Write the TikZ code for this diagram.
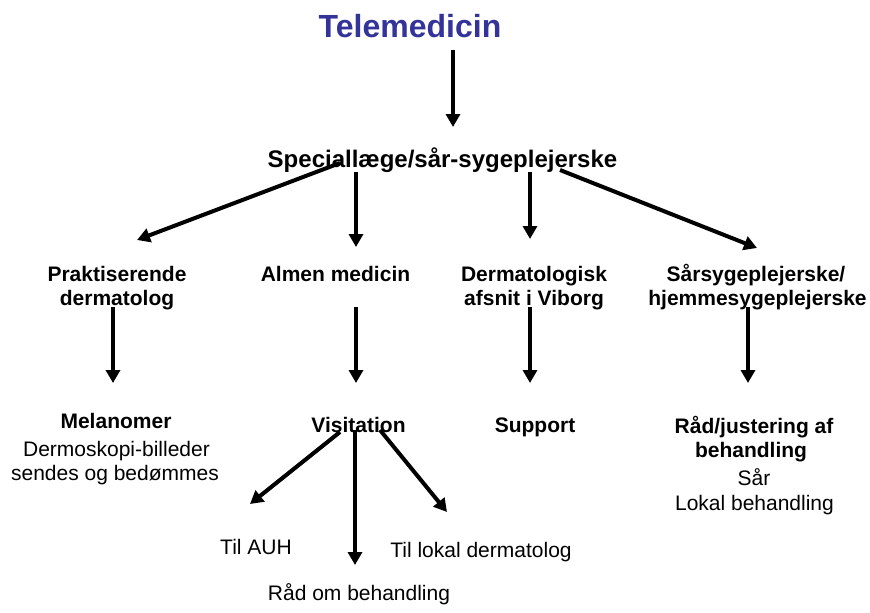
\documentclass[tikz,border=0pt]{standalone}
\usepackage{fontspec}
\setmainfont{Liberation Sans}
\usetikzlibrary{arrows.meta,calc}
\definecolor{titleblue}{RGB}{51,51,153}
\tikzset{
  bl/.style={font=\fontsize{21}{24}\selectfont\bfseries, anchor=base, inner sep=0pt},
  rl/.style={font=\fontsize{21}{24}\selectfont, anchor=base, inner sep=0pt},
  arr/.style={line width=4pt, -{Triangle[width=14pt,length=13pt]}}
}
\begin{document}
\begin{tikzpicture}[x=1pt,y=-1pt]
\useasboundingbox[fill=white] (0,0) rectangle (870,613);
% nodes
\node[anchor=base, inner sep=0pt, text=titleblue, font=\fontsize{32}{38}\selectfont\bfseries] (title) at (410,37) {Telemedicin};
\node[anchor=base, inner sep=0pt, font=\fontsize{24}{28}\selectfont\bfseries] (spec) at (442.5,167) {Speciallæge/sår-sygeplejerske};
\node[bl] (prak) at (117,281) {Praktiserende};
\node[bl] (prakb) at (117,305) {dermatolog};
\node[bl] (almen) at (335.5,281) {Almen medicin};
\node[bl] (derm) at (534,281) {Dermatologisk};
\node[bl] (dermb) at (534,305) {afsnit i Viborg};
\node[bl] (sar) at (756,281) {Sårsygeplejerske/};
\node[bl] (sarb) at (757.5,305) {hjemmesygeplejerske};
\node[bl] (mel) at (116,428) {Melanomer};
\node[rl] (melb) at (116.5,456) {Dermoskopi-billeder};
\node[rl] (melc) at (115,480) {sendes og bedømmes};
\node[bl] (visit) at (358.5,432) {Visitation};
\node[bl] (supp) at (535,432) {Support};
\node[bl] (raad) at (754,433) {Råd/justering af};
\node[bl] (raadb) at (751,457) {behandling};
\node[rl] (raadc) at (754,485) {Sår};
\node[rl] (raadd) at (754.5,510) {Lokal behandling};
\node[rl] (auh) at (256,554) {Til AUH};
\node[rl] (lokal) at (481,557) {Til lokal dermatolog};
\node[rl] (raadom) at (359,600) {Råd om behandling};
% arrows
\draw[arr] ($(title.base)+(43,13)$) -- ($(spec.base)+(10.5,-40)$);
\draw[arr] ($(spec.base)+(-102.5,-4)$) -- ($(prak.base)+(20,-41)$);
\draw[arr] ($(spec.base)+(-86.5,5)$) -- ($(almen.base)+(20.5,-34)$);
\draw[arr] ($(spec.base)+(87.5,5)$) -- ($(derm.base)+(-4,-42)$);
\draw[arr] ($(spec.base)+(117.5,3)$) -- ($(sar.base)+(1,-33)$);
\draw[arr] ($(prakb.base)+(-4,2)$) -- ($(mel.base)+(-3,-45)$);
\draw[arr] ($(almen.base)+(20.5,26)$) -- ($(visit.base)+(-2.5,-49)$);
\draw[arr] ($(dermb.base)+(-4,2)$) -- ($(supp.base)+(-5,-49)$);
\draw[arr] ($(sarb.base)+(-9.5,2)$) -- ($(raad.base)+(-6,-50)$);
\draw[arr] ($(visit.base)+(-18.5,0)$) -- ($(auh.base)+(-6,-50)$);
\draw[arr] ($(visit.base)+(-3.5,-2)$) -- ($(raadom.base)+(-4,-35)$);
\draw[arr] ($(visit.base)+(21.5,-2)$) -- ($(lokal.base)+(-34,-45)$);
\end{tikzpicture}
\end{document}
